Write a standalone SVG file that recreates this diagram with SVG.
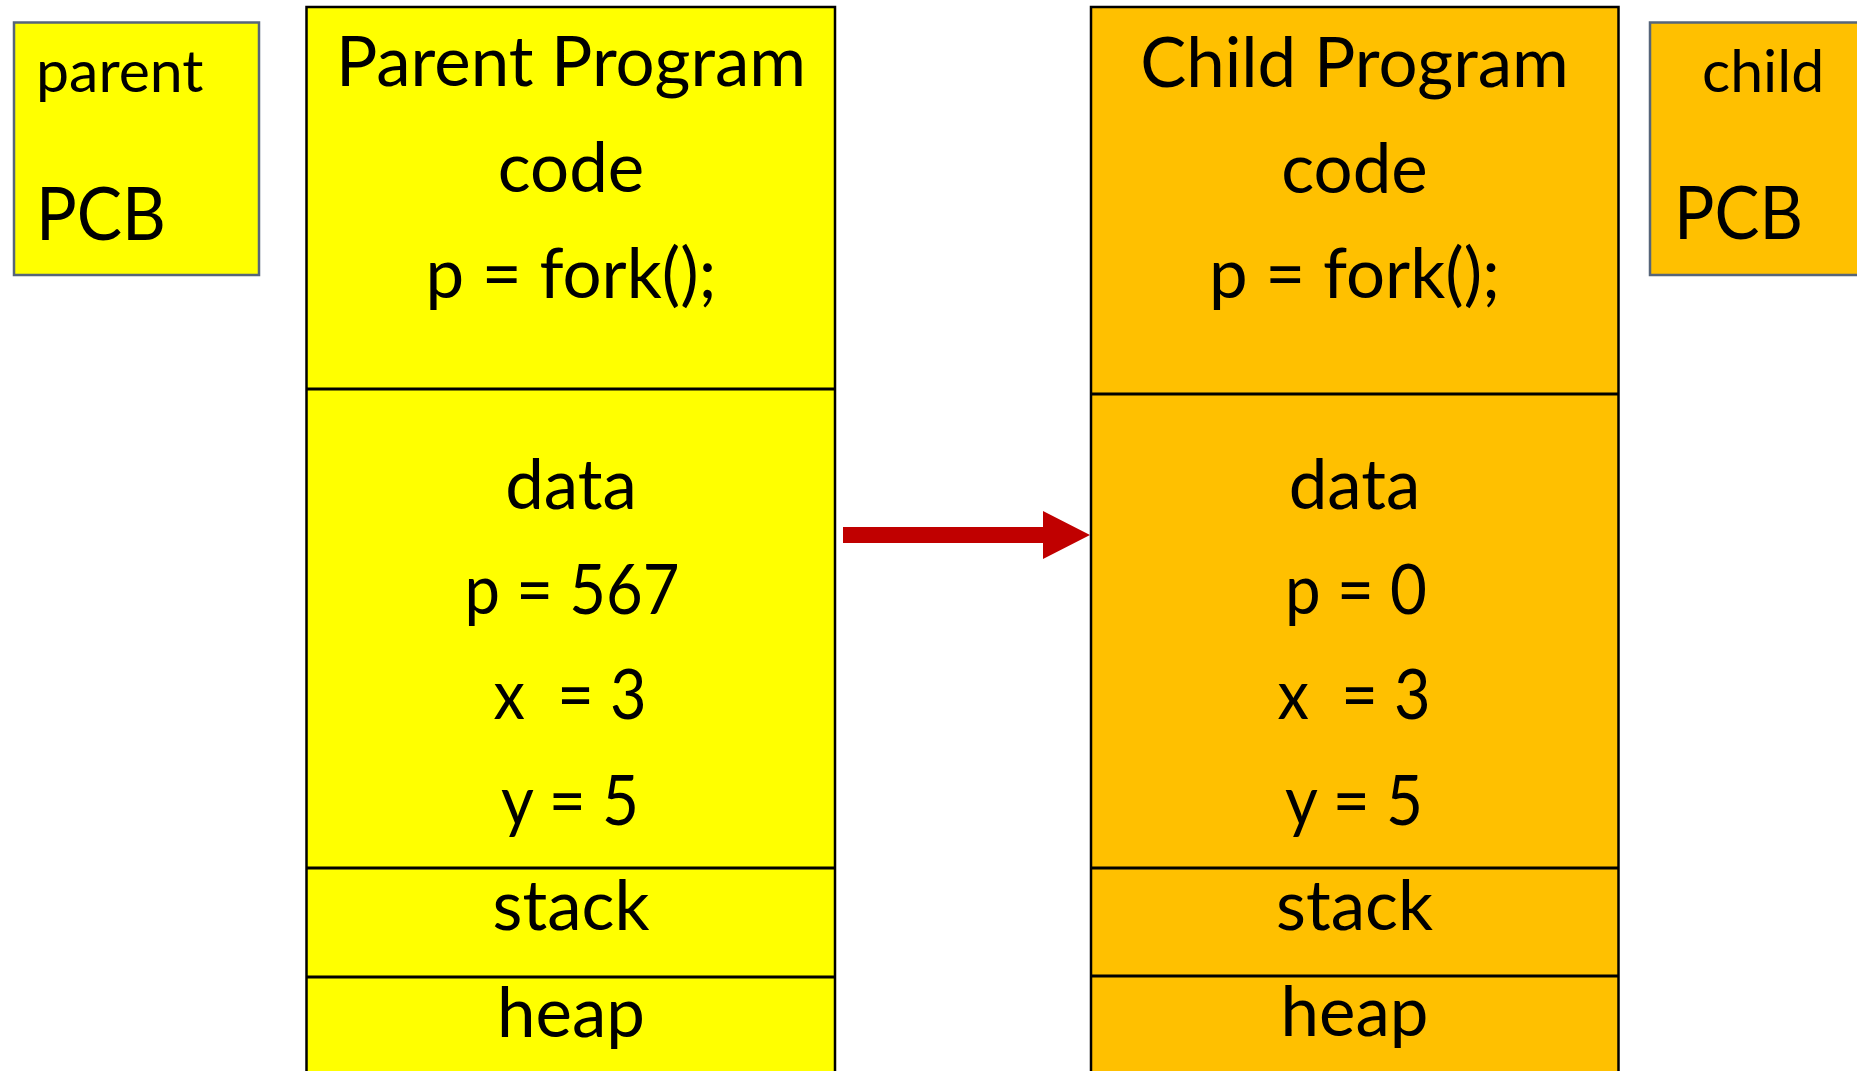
<svg xmlns="http://www.w3.org/2000/svg" width="1857" height="1071" viewBox="0 0 1857 1071">
<style>
text{font-family:Lato,"Liberation Sans",sans-serif;fill:#000}
.big{font-size:69px;text-anchor:middle}
.lbl{font-size:59px}
.pcb{font-size:74px}
.prog{stroke:#000;stroke-width:2.5}
.div{stroke:#000;stroke-width:3}
.pcbbox{stroke:#56657a;stroke-width:2.5}
.par{fill:#FFFF00}
.chi{fill:#FFC000}
</style>
<rect width="1857" height="1071" fill="#fff"/>
<g id="parent-pcb">
<rect class="pcbbox par" x="14" y="22.5" width="245" height="252.5"/>
<text class="lbl" x="36" y="92">parent</text>
<text class="pcb" x="36" y="240" textLength="130" lengthAdjust="spacingAndGlyphs">PCB</text>
</g>
<g id="parent-program">
<rect class="prog par" x="306.5" y="7" width="528.5" height="1080"/>
<line class="div" x1="306.5" y1="389" x2="835" y2="389"/>
<line class="div" x1="306.5" y1="868" x2="835" y2="868"/>
<line class="div" x1="306.5" y1="977" x2="835" y2="977"/>
<text class="big" x="571" y="86">Parent Program</text>
<text class="big" x="571" y="192">code</text>
<text class="big" x="571" y="298">p = fork();</text>
<text class="big" x="571" y="509">data</text>
<text class="big" x="572" y="614" textLength="215" lengthAdjust="spacingAndGlyphs">p = 567</text>
<text class="big" x="570" y="719" xml:space="preserve" textLength="153" lengthAdjust="spacingAndGlyphs">x  = 3</text>
<text class="big" x="570" y="825" textLength="138" lengthAdjust="spacingAndGlyphs">y = 5</text>
<text class="big" x="571" y="930">stack</text>
<text class="big" x="571" y="1037">heap</text>
</g>
<g id="child-program">
<rect class="prog chi" x="1091" y="7" width="527.5" height="1080"/>
<line class="div" x1="1091" y1="394" x2="1618.5" y2="394"/>
<line class="div" x1="1091" y1="868" x2="1618.5" y2="868"/>
<line class="div" x1="1091" y1="976" x2="1618.5" y2="976"/>
<text class="big" x="1354.5" y="87">Child Program</text>
<text class="big" x="1354.5" y="193">code</text>
<text class="big" x="1354.5" y="298">p = fork();</text>
<text class="big" x="1354.5" y="509">data</text>
<text class="big" x="1356" y="614" textLength="142" lengthAdjust="spacingAndGlyphs">p = 0</text>
<text class="big" x="1354" y="719" xml:space="preserve" textLength="153" lengthAdjust="spacingAndGlyphs">x  = 3</text>
<text class="big" x="1354" y="825" textLength="138" lengthAdjust="spacingAndGlyphs">y = 5</text>
<text class="big" x="1354.5" y="930">stack</text>
<text class="big" x="1354.5" y="1036">heap</text>
</g>
<g id="child-pcb">
<rect class="pcbbox chi" x="1650" y="22.5" width="245" height="252.5"/>
<text class="lbl" x="1702" y="92">child</text>
<text class="pcb" x="1674" y="239" textLength="129" lengthAdjust="spacingAndGlyphs">PCB</text>
</g>
<g id="connectors">
<path d="M843,527 H1043 V511 L1090,535 L1043,559 V543 H843 Z" fill="#C00000"/>
</g>
</svg>
